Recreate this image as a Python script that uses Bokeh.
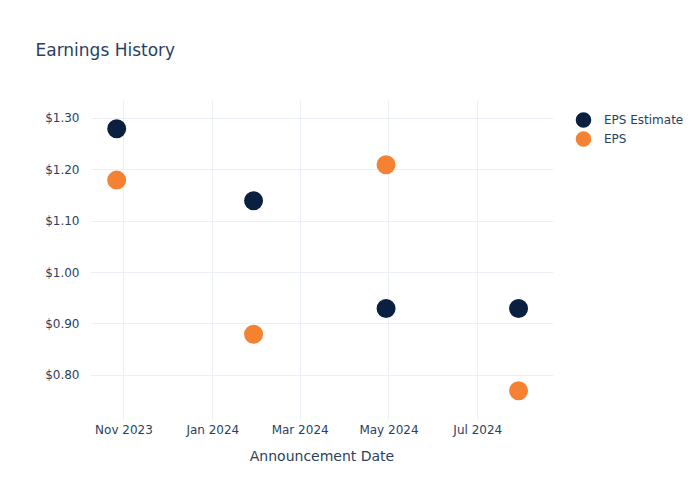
from datetime import datetime
from bokeh.plotting import figure
from bokeh.models import (ColumnDataSource, FixedTicker, DatetimeTickFormatter, NumeralTickFormatter,
                          Legend, LegendItem, Range1d, Title)
from bokeh.embed import file_html
from bokeh.resources import INLINE

dates = ["2023-10-27", "2024-01-29", "2024-04-29", "2024-07-29"]
eps_estimate = [1.28, 1.14, 0.93, 0.93]
eps_actual = [1.18, 0.88, 1.21, 0.77]
tick_dates = ["2023-11-01", "2024-01-01", "2024-03-01", "2024-05-01", "2024-07-01"]
y_ticks = [0.80, 0.90, 1.00, 1.10, 1.20, 1.30]

def ms(s):
    return (datetime.strptime(s, "%Y-%m-%d") - datetime(1970, 1, 1)).total_seconds() * 1000

x = [ms(d) for d in dates]
src = ColumnDataSource(dict(x=x, est=eps_estimate, eps=eps_actual))

FONT = "DejaVu Sans"
TXT = "#2a3f5f"
GRID = "#ebf0f8"
NAVY = "#0b1f41"
ORANGE = "#f58133"

p = figure(frame_width=463, frame_height=320, output_backend="svg", toolbar_location=None,
           x_axis_type="datetime",
           x_range=Range1d(ms("2023-10-09"), ms("2024-08-22")),
           y_range=Range1d(0.712, 1.335),
           min_border_left=90, min_border_right=0, min_border_top=100, min_border_bottom=80)
p.outline_line_color = None
p.background_fill_color = "white"

# marker = fill (size 11) + same-colour outline 8px -> ~19px on plot, ~16px in legend
r1 = p.scatter("x", "est", source=src, size=11, fill_color=NAVY, line_color=NAVY, line_width=8)
r2 = p.scatter("x", "eps", source=src, size=11, fill_color=ORANGE, line_color=ORANGE, line_width=8)

p.xaxis.ticker = FixedTicker(ticks=[ms(t) for t in tick_dates])
p.xaxis.formatter = DatetimeTickFormatter(months="%b %Y", days="%b %Y", years="%b %Y")
p.yaxis.ticker = FixedTicker(ticks=y_ticks)
p.yaxis.formatter = NumeralTickFormatter(format="$0.00")

for ax in (p.xaxis[0], p.yaxis[0]):
    ax.axis_line_color = None
    ax.major_tick_line_color = None
    ax.minor_tick_line_color = None
    ax.major_tick_out = 0
    ax.major_tick_in = 0
    ax.minor_tick_out = 0
    ax.major_label_text_font = FONT
    ax.major_label_text_font_size = "12px"
    ax.major_label_text_color = TXT
p.xaxis.major_label_standoff = 2
p.yaxis.major_label_standoff = 11
p.xaxis.axis_label = "Announcement Date"
p.xaxis.axis_label_text_font = FONT
p.xaxis.axis_label_text_font_size = "14px"
p.xaxis.axis_label_text_font_style = "normal"
p.xaxis.axis_label_text_color = TXT
p.xaxis.axis_label_standoff = 8

p.xgrid.grid_line_color = GRID
p.ygrid.grid_line_color = GRID
p.xgrid.ticker = p.xaxis.ticker
p.ygrid.ticker = p.yaxis.ticker

title = Title(text="Earnings History", text_font=FONT, text_font_size="17px",
              text_font_style="normal", text_color=TXT, align="left", offset=-55,
              vertical_align="top", standoff=78)
p.add_layout(title, "above")

legend = Legend(items=[LegendItem(label="EPS Estimate", renderers=[r1]),
                       LegendItem(label="EPS", renderers=[r2])],
                location="top_left", border_line_color=None, background_fill_alpha=0,
                label_text_font=FONT, label_text_font_size="12px", label_text_color=TXT,
                glyph_width=40, glyph_height=19, spacing=0, padding=0, margin=10,
                label_height=19, label_standoff=1)
p.add_layout(legend, "right")

open("out.html", "w").write(file_html(p, INLINE))
